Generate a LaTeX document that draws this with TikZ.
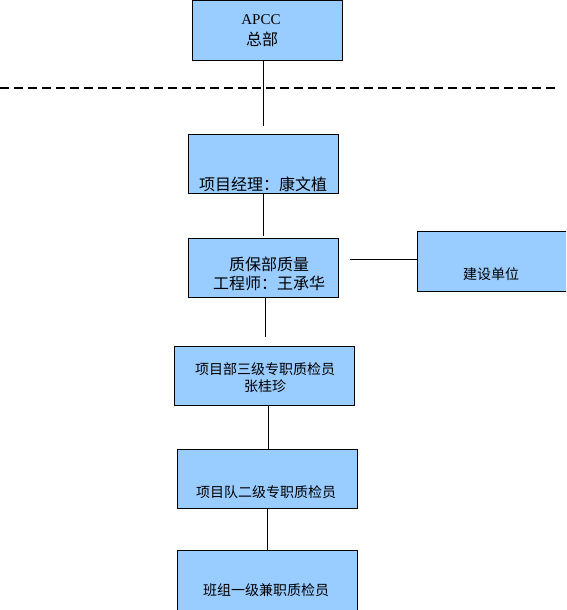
\documentclass[tikz,border=0pt]{standalone}
\usepackage{fontspec}
\setmainfont{Liberation Serif}
\newfontfamily\cjk{Noto Sans CJK SC}
\definecolor{boxblue}{HTML}{99CCFF}
\begin{document}
\begin{tikzpicture}[x=1pt,y=-1pt,
  box/.style={draw=black,fill=boxblue,line width=1pt,anchor=north west,inner sep=0pt},
  txt/.style={font=\cjk\fontsize{14}{16}\selectfont,align=center,inner sep=0pt},
  bigtxt/.style={txt,font=\cjk\fontsize{16}{18}\selectfont},
  conn/.style={draw=black,line width=0.9pt}]
\useasboundingbox (0,0) rectangle (566,610);
\clip (0,0) rectangle (566,610);
% boxes
\node[box,minimum width=150pt,minimum height=60pt] (hq) at (192,0) {};
\node[box,minimum width=150pt,minimum height=59pt] (pm) at (188,134) {};
\node[box,minimum width=150pt,minimum height=59pt] (qa) at (188,238) {};
\node[box,minimum width=160pt,minimum height=60pt] (owner) at (417,231) {};
\node[box,minimum width=180pt,minimum height=59pt] (l3) at (174,346) {};
\node[box,minimum width=180pt,minimum height=59pt] (l2) at (177,449) {};
\node[box,minimum width=180pt,minimum height=65pt] (l1) at (177,550) {};
% texts
\node[txt,font=\fontsize{15}{17}\selectfont] (t1a) at (261,20) {APCC};
\node[bigtxt] (t1b) at (262,39) {总部};
\node[bigtxt] (t2) at (263,184) {项目经理：康文植};
\node[bigtxt] (t3a) at (269,264) {质保部质量};
\node[bigtxt] (t3b) at (269,283) {工程师：王承华};
\node[txt] (t4) at (491,274) {建设单位};
\node[txt] (t5a) at (265,369) {项目部三级专职质检员};
\node[txt] (t5b) at (265,386) {张桂珍};
\node[txt] (t6) at (266,492) {项目队二级专职质检员};
\node[txt] (t7) at (266,590) {班组一级兼职质检员};
% dashed separator
\coordinate (dl) at (0,88);
\coordinate (dr) at (556,88);
\draw[line width=1.6pt,dash pattern=on 9pt off 5pt] (dl) -- (dr);
% connectors
\coordinate (c1) at (263,126);
\draw[conn] (hq.south -| c1) -- (c1);
\draw[conn] (pm.south -| 263,0) -- (263,236);
\coordinate (c3) at (265,337);
\draw[conn] (qa.south -| c3) -- (c3);
\coordinate (c4) at (350,259);
\draw[conn] (c4) -- (c4 -| owner.west);
\coordinate (c5) at (268,449);
\draw[conn] (l3.south -| c5) -- (c5);
\coordinate (c6) at (267,550);
\draw[conn] (l2.south -| c6) -- (c6);
\end{tikzpicture}
\end{document}
